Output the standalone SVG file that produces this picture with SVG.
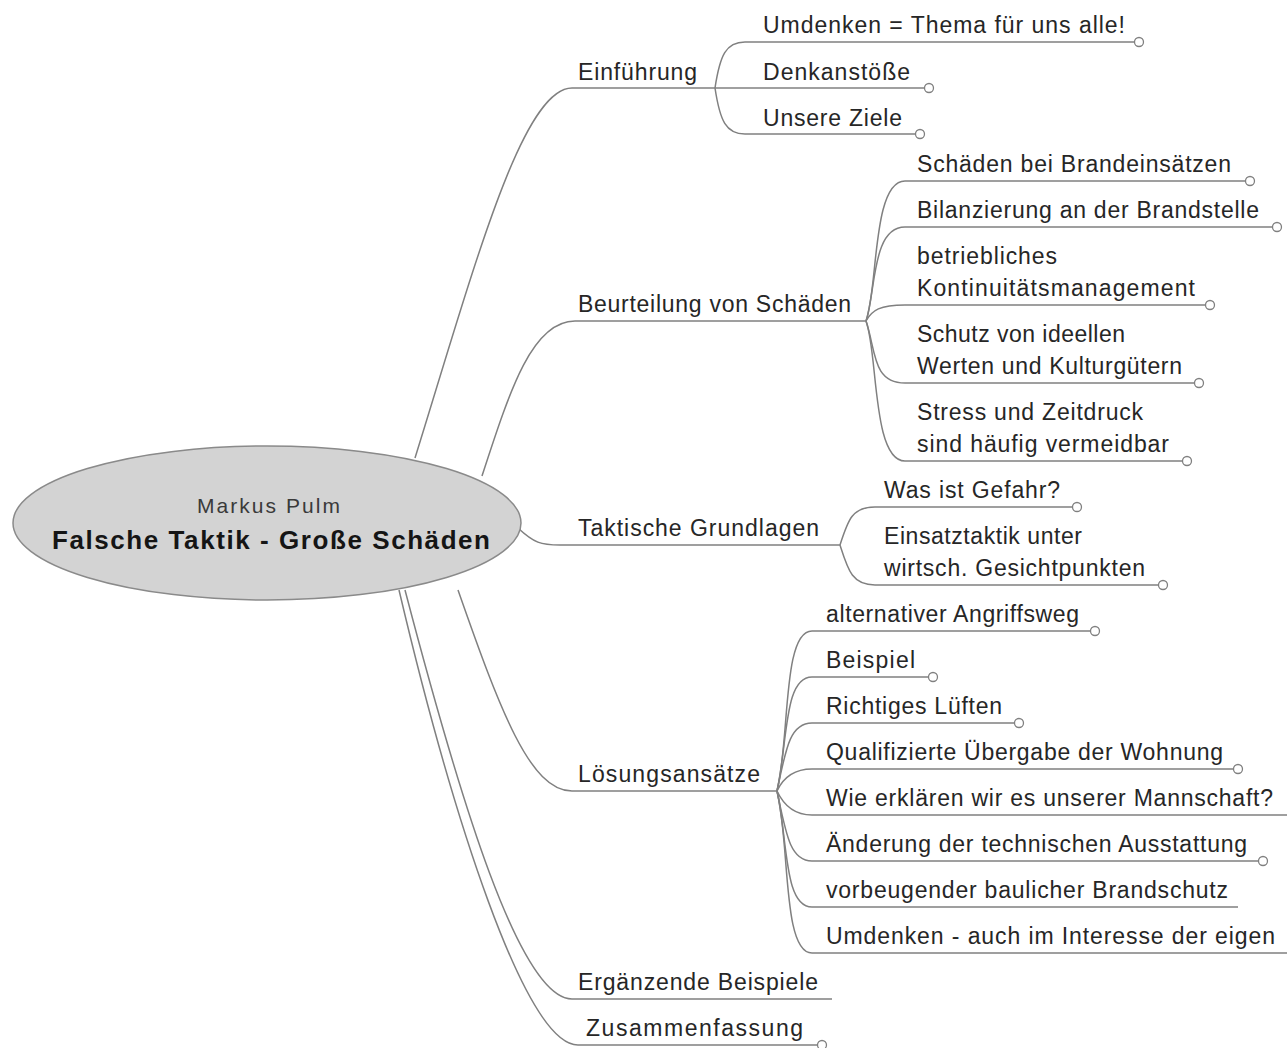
<svg xmlns="http://www.w3.org/2000/svg" width="1287" height="1048" viewBox="0 0 1287 1048">
<style>
.conn{fill:none;stroke:#808080;stroke-width:1.5}
.end{fill:#fff;stroke:#808080;stroke-width:1.3}
.t{font-family:"Liberation Sans",Arial,sans-serif;font-size:23px;fill:#262626}
.sub{font-family:"Liberation Sans",Arial,sans-serif;font-size:21px;fill:#3a3a3a}
.title{font-family:"Liberation Sans",Arial,sans-serif;font-size:26px;font-weight:bold;fill:#151515}
</style>
<rect width="1287" height="1048" fill="#fff"/>
<g id="connectors">
<path class="conn" d="M415,458 C 474,268 522,88 572,88 L715,88"/>
<path class="conn" d="M482,476 C 510,390 532,321 575,321 L866,321"/>
<path class="conn" d="M518,528 C 534,543 541,545 560,545 L840,545"/>
<path class="conn" d="M458,590 C 500,710 530,791 572,791 L777,791"/>
<path class="conn" d="M405,590 C 460,800 520,999 572,999 L832,999"/>
<path class="conn" d="M399,590 C 452,815 525,1045 578,1045 L817,1045"/>
<path class="conn" d="M715,88 C 720,55 726,42 745,42 L1134,42"/>
<path class="conn" d="M715,88 L924,88"/>
<path class="conn" d="M715,88 C 720,121 726,134 745,134 L915,134"/>
<path class="conn" d="M866,321 C 878,290 872,181 905,181 L1245,181"/>
<path class="conn" d="M866,321 C 876,290 872,227 905,227 L1272,227"/>
<path class="conn" d="M866,321 C 872,310 880,305 905,305 L1205,305"/>
<path class="conn" d="M866,321 C 876,350 872,383 905,383 L1194,383"/>
<path class="conn" d="M866,321 C 878,352 872,461 905,461 L1182,461"/>
<path class="conn" d="M840,545 C 848,520 852,507 875,507 L1072,507"/>
<path class="conn" d="M840,545 C 848,570 852,585 875,585 L1158,585"/>
<path class="conn" d="M777,791 C 790,740 782,631 812,631 L1090,631"/>
<path class="conn" d="M777,791 C 788,740 784,677 812,677 L928,677"/>
<path class="conn" d="M777,791 C 786,748 790,723 812,723 L1014,723"/>
<path class="conn" d="M777,791 C 784,776 795,769 812,769 L1233,769"/>
<path class="conn" d="M777,791 C 784,806 795,815 812,815 L1287,815"/>
<path class="conn" d="M777,791 C 786,834 790,861 812,861 L1258,861"/>
<path class="conn" d="M777,791 C 788,842 784,907 812,907 L1238,907"/>
<path class="conn" d="M777,791 C 790,842 782,953 812,953 L1287,953"/>
<circle class="end" cx="1139" cy="42" r="4.5"/>
<circle class="end" cx="929" cy="88" r="4.5"/>
<circle class="end" cx="920" cy="134" r="4.5"/>
<circle class="end" cx="1250" cy="181" r="4.5"/>
<circle class="end" cx="1277" cy="227" r="4.5"/>
<circle class="end" cx="1210" cy="305" r="4.5"/>
<circle class="end" cx="1199" cy="383" r="4.5"/>
<circle class="end" cx="1187" cy="461" r="4.5"/>
<circle class="end" cx="1077" cy="507" r="4.5"/>
<circle class="end" cx="1163" cy="585" r="4.5"/>
<circle class="end" cx="1095" cy="631" r="4.5"/>
<circle class="end" cx="933" cy="677" r="4.5"/>
<circle class="end" cx="1019" cy="723" r="4.5"/>
<circle class="end" cx="1238" cy="769" r="4.5"/>
<circle class="end" cx="1263" cy="861" r="4.5"/>
<circle class="end" cx="822" cy="1045" r="4.5"/>
</g>
<g id="center">
<ellipse cx="267" cy="523" rx="254" ry="77" fill="#d3d3d3" stroke="#8a8a8a" stroke-width="1.5"/>
<text class="sub" x="197" y="513" textLength="143" lengthAdjust="spacing">Markus Pulm</text>
<text class="title" x="52" y="549" textLength="438" lengthAdjust="spacing">Falsche Taktik - Große Schäden</text>
</g>
<g id="einfuehrung">
<text class="t" x="578" y="80" textLength="119" lengthAdjust="spacing">Einführung</text>
</g>
<g id="einf-1"><text class="t" x="763" y="33" textLength="362" lengthAdjust="spacing">Umdenken = Thema für uns alle!</text></g>
<g id="einf-2"><text class="t" x="763" y="80" textLength="147" lengthAdjust="spacing">Denkanstöße</text></g>
<g id="einf-3"><text class="t" x="763" y="126" textLength="139" lengthAdjust="spacing">Unsere Ziele</text></g>
<g id="beurteilung">
<text class="t" x="578" y="312" textLength="273" lengthAdjust="spacing">Beurteilung von Schäden</text>
</g>
<g id="beur-1"><text class="t" x="917" y="172" textLength="314" lengthAdjust="spacing">Schäden bei Brandeinsätzen</text></g>
<g id="beur-2"><text class="t" x="917" y="218" textLength="342" lengthAdjust="spacing">Bilanzierung an der Brandstelle</text></g>
<g id="beur-3"><text class="t" x="917" y="264" textLength="140" lengthAdjust="spacing">betriebliches</text><text class="t" x="917" y="296" textLength="278" lengthAdjust="spacing">Kontinuitätsmanagement</text></g>
<g id="beur-4"><text class="t" x="917" y="342" textLength="208" lengthAdjust="spacing">Schutz von ideellen</text><text class="t" x="917" y="374" textLength="265" lengthAdjust="spacing">Werten und Kulturgütern</text></g>
<g id="beur-5"><text class="t" x="917" y="420" textLength="226" lengthAdjust="spacing">Stress und Zeitdruck</text><text class="t" x="917" y="452" textLength="252" lengthAdjust="spacing">sind häufig vermeidbar</text></g>
<g id="taktik">
<text class="t" x="578" y="536" textLength="241" lengthAdjust="spacing">Taktische Grundlagen</text>
</g>
<g id="takt-1"><text class="t" x="884" y="498" textLength="176" lengthAdjust="spacing">Was ist Gefahr?</text></g>
<g id="takt-2"><text class="t" x="884" y="544" textLength="198" lengthAdjust="spacing">Einsatztaktik unter</text><text class="t" x="884" y="576" textLength="261" lengthAdjust="spacing">wirtsch. Gesichtpunkten</text></g>
<g id="loesung">
<text class="t" x="578" y="782" textLength="182" lengthAdjust="spacing">Lösungsansätze</text>
</g>
<g id="loes-1"><text class="t" x="826" y="622" textLength="253" lengthAdjust="spacing">alternativer Angriffsweg</text></g>
<g id="loes-2"><text class="t" x="826" y="668" textLength="89" lengthAdjust="spacing">Beispiel</text></g>
<g id="loes-3"><text class="t" x="826" y="714" textLength="176" lengthAdjust="spacing">Richtiges Lüften</text></g>
<g id="loes-4"><text class="t" x="826" y="760" textLength="397" lengthAdjust="spacing">Qualifizierte Übergabe der Wohnung</text></g>
<g id="loes-5"><text class="t" x="826" y="806" textLength="447" lengthAdjust="spacing">Wie erklären wir es unserer Mannschaft?</text></g>
<g id="loes-6"><text class="t" x="826" y="852" textLength="421" lengthAdjust="spacing">Änderung der technischen Ausstattung</text></g>
<g id="loes-7"><text class="t" x="826" y="898" textLength="402" lengthAdjust="spacing">vorbeugender baulicher Brandschutz</text></g>
<g id="loes-8"><text class="t" x="826" y="944" textLength="449" lengthAdjust="spacing">Umdenken - auch im Interesse der eigen</text></g>
<g id="ergaenzende"><text class="t" x="578" y="990" textLength="240" lengthAdjust="spacing">Ergänzende Beispiele</text></g>
<g id="zusammenfassung"><text class="t" x="586" y="1036" textLength="217" lengthAdjust="spacing">Zusammenfassung</text></g>
</svg>
